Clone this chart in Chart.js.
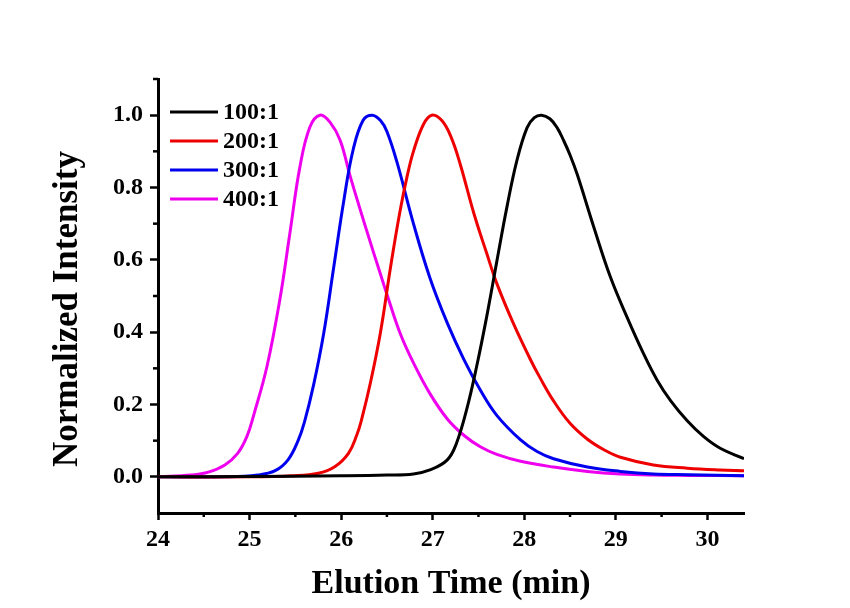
<!DOCTYPE html>
<html>
<head>
<meta charset="utf-8">
<script src="https://cdn.jsdelivr.net/npm/chart.js@4/dist/chart.umd.min.js"></script>
<style>
  html, body { margin: 0; padding: 0; background: #fff; }
  #wrap { width: 850px; height: 608px; }
</style>
</head>
<body>
<div id="wrap"><canvas id="gpc" width="850" height="608"></canvas></div>
<script>
// GPC traces
const labels = ["100:1", "200:1", "300:1", "400:1"];
const colors = ["#000000", "#ee0000", "#0000ee", "#ee00ee"];

const x100 = [24.0, 25.0, 26.0, 26.5, 26.79, 26.97, 27.16, 27.26, 27.37, 27.48, 27.59, 27.70, 27.81, 27.92, 28.03, 28.11, 28.19, 28.28, 28.36, 28.43, 28.50, 28.58, 28.76, 28.94, 29.12, 29.30, 29.45, 29.60, 29.78, 29.96, 30.14, 30.4];
const y100 = [0.0, 0.001, 0.003, 0.005, 0.008, 0.019, 0.047, 0.093, 0.185, 0.305, 0.443, 0.595, 0.745, 0.875, 0.965, 0.993, 1.0, 0.99, 0.965, 0.93, 0.89, 0.835, 0.69, 0.553, 0.443, 0.342, 0.268, 0.210, 0.155, 0.111, 0.079, 0.050];

const x200 = [24.0, 25.0, 25.46, 25.75, 25.93, 26.08, 26.17, 26.22, 26.32, 26.43, 26.54, 26.64, 26.72, 26.79, 26.90, 26.99, 27.10, 27.20, 27.30, 27.45, 27.59, 27.70, 27.88, 28.07, 28.17, 28.32, 28.50, 28.69, 28.87, 29.05, 29.41, 29.78, 30.14, 30.4];
const y200 = [0.0, 0.0, 0.003, 0.010, 0.028, 0.065, 0.115, 0.155, 0.26, 0.40, 0.58, 0.73, 0.83, 0.90, 0.975, 1.0, 0.985, 0.94, 0.865, 0.728, 0.618, 0.535, 0.425, 0.323, 0.275, 0.21, 0.148, 0.104, 0.075, 0.054, 0.033, 0.024, 0.019, 0.017];

const x300 = [24.0, 24.73, 25.09, 25.28, 25.42, 25.53, 25.60, 25.70, 25.81, 25.92, 26.03, 26.13, 26.24, 26.34, 26.43, 26.50, 26.61, 26.79, 26.97, 27.16, 27.34, 27.52, 27.70, 27.96, 28.14, 28.32, 28.69, 29.05, 29.41, 29.8, 30.4];
const y300 = [0.0, 0.0, 0.005, 0.017, 0.047, 0.10, 0.152, 0.255, 0.397, 0.581, 0.765, 0.903, 0.986, 1.0, 0.985, 0.955, 0.87, 0.70, 0.55, 0.425, 0.325, 0.240, 0.170, 0.102, 0.070, 0.050, 0.027, 0.015, 0.008, 0.006, 0.003];

const x400 = [24.0, 24.36, 24.55, 24.73, 24.87, 24.97, 25.05, 25.19, 25.33, 25.44, 25.55, 25.66, 25.77, 25.88, 25.99, 26.10, 26.28, 26.43, 26.50, 26.64, 26.79, 26.97, 27.16, 27.34, 27.52, 27.70, 27.96, 28.32, 28.69, 29.05, 29.41, 29.8, 30.4];
const y400 = [0.0, 0.005, 0.013, 0.033, 0.065, 0.111, 0.175, 0.305, 0.489, 0.673, 0.857, 0.968, 1.0, 0.98, 0.93, 0.83, 0.68, 0.56, 0.505, 0.40, 0.315, 0.23, 0.16, 0.115, 0.083, 0.062, 0.043, 0.027, 0.015, 0.008, 0.005, 0.004, 0.003];

const xTicks = [24, 25, 26, 27, 28, 29, 30];
const xMinor = [24.5, 25.5, 26.5, 27.5, 28.5, 29.5];
const yTicks = [0.0, 0.2, 0.4, 0.6, 0.8, 1.0];
const yMinor = [0.1, 0.3, 0.5, 0.7, 0.9, 1.1];
const yTitle = "Normalized Intensity";

const FONT = "'Liberation Serif', 'Times New Roman', serif";

const toPts = (xs, ys) => xs.map((x, i) => ({ x, y: ys[i] }));
const series = [[x100, y100], [x200, y200], [x300, y300], [x400, y400]];

const datasets = series.map(([xs, ys], i) => ({
  label: labels[i],
  data: toPts(xs, ys),
  borderColor: colors[i],
  borderWidth: 3,
  pointRadius: 0,
  fill: false,
  tension: 0.4,
}));

// minor ticks, legend and y title drawn by hand
const extras = {
  id: "extras",
  afterDraw(chart) {
    const { ctx, scales, chartArea } = chart;
    ctx.save();
    ctx.strokeStyle = "#000";
    ctx.lineWidth = 2.5;
    for (const v of xMinor) {
      const px = scales.x.getPixelForValue(v);
      ctx.beginPath();
      ctx.moveTo(px, chartArea.bottom);
      ctx.lineTo(px, chartArea.bottom + 4);
      ctx.stroke();
    }
    for (const v of yMinor) {
      const py = scales.y.getPixelForValue(v);
      ctx.beginPath();
      ctx.moveTo(chartArea.left, py);
      ctx.lineTo(chartArea.left - 5, py);
      ctx.stroke();
    }
    // legend
    ctx.font = "bold 24px " + FONT;
    ctx.textBaseline = "middle";
    ctx.textAlign = "left";
    ctx.lineWidth = 3;
    labels.forEach((lab, i) => {
      const y = 112 + i * 29;
      ctx.strokeStyle = colors[i];
      ctx.beginPath();
      ctx.moveTo(170, y);
      ctx.lineTo(218, y);
      ctx.stroke();
      ctx.fillStyle = "#000";
      ctx.fillText(lab, 223, y + 1);
    });
    // y axis title, sits a bit below the axis centre in the original
    ctx.translate(68, 309);
    ctx.rotate(-Math.PI / 2);
    ctx.textAlign = "center";
    ctx.font = "bold 35px " + FONT;
    ctx.fillText(yTitle, 0, 0);
    ctx.restore();
  },
};

new Chart(document.getElementById("gpc"), {
  type: "line",
  data: { datasets },
  options: {
    responsive: false,
    animation: false,
    layout: { padding: { top: 79, right: 106, left: 0, bottom: 0 } },
    plugins: { legend: { display: false }, tooltip: { enabled: false } },
    scales: {
      x: {
        type: "linear",
        min: 24,
        max: 30.4,
        afterBuildTicks: (s) => { s.ticks = xTicks.map((v) => ({ value: v })); },
        afterFit: (s) => { s.height = 95; },
        grid: { drawOnChartArea: false, drawTicks: true, tickLength: 7, tickWidth: 2.5, tickColor: "#000" },
        border: { color: "#000", width: 3 },
        ticks: { color: "#000", padding: 5, font: { family: FONT, size: 24, weight: "bold" } },
        title: {
          display: true,
          text: "Elution Time (min)",
          color: "#000",
          font: { family: FONT, size: 34, weight: "bold" },
          padding: { top: 0, bottom: 3 },
        },
      },
      y: {
        type: "linear",
        min: -0.1,
        max: 1.1,
        afterBuildTicks: (s) => { s.ticks = yTicks.map((v) => ({ value: v })); },
        afterFit: (s) => { s.width = 158; },
        grid: { drawOnChartArea: false, drawTicks: true, tickLength: 8, tickWidth: 2.5, tickColor: "#000" },
        border: { color: "#000", width: 3 },
        ticks: {
          color: "#000",
          padding: 7,
          font: { family: FONT, size: 24, weight: "bold" },
          callback: (v) => Number(v).toFixed(1),
        },
        title: { display: false },
      },
    },
  },
  plugins: [extras],
});
</script>
</body>
</html>
